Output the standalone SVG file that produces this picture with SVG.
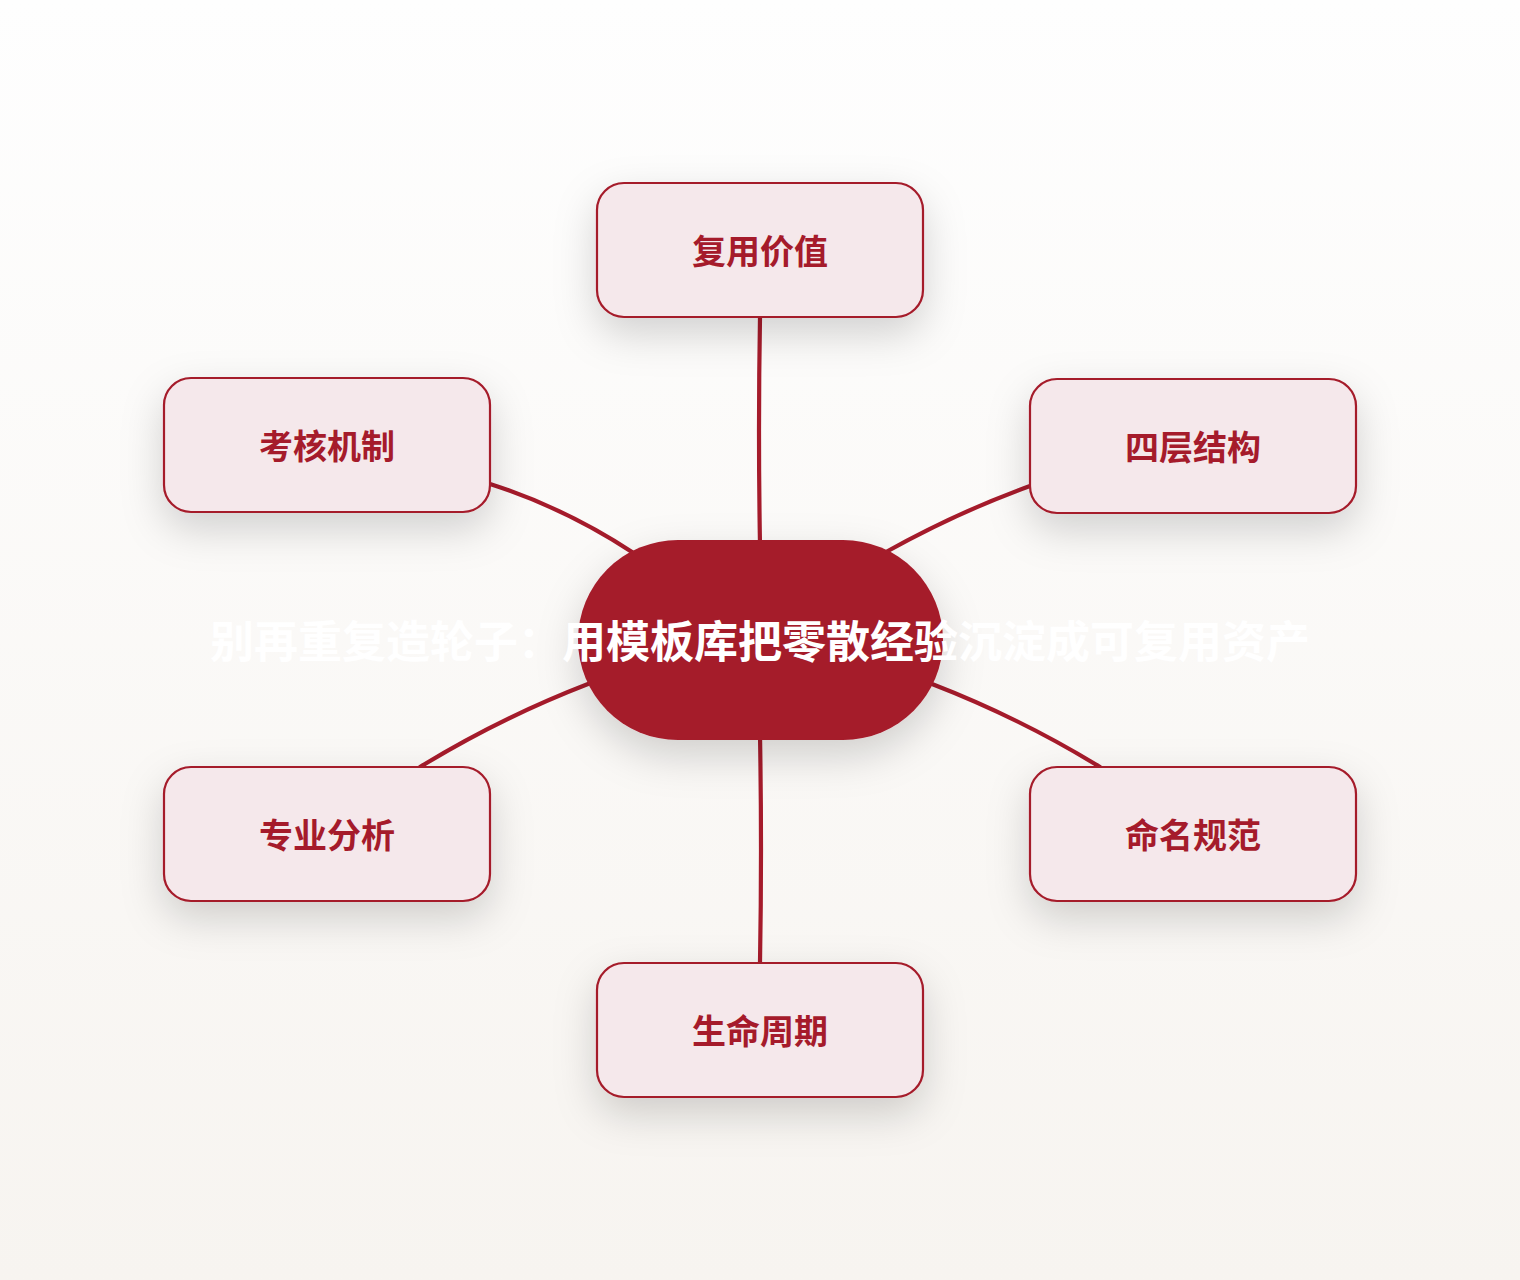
<svg xmlns="http://www.w3.org/2000/svg" width="1520" height="1280" viewBox="0 0 1520 1280">
  <defs>
    <linearGradient id="bg" x1="0" y1="0" x2="0" y2="1">
      <stop offset="0" stop-color="#fefefe"/>
      <stop offset="1" stop-color="#f7f4f0"/>
    </linearGradient>
    <filter id="shadow" x="-40%" y="-40%" width="180%" height="200%">
      <feDropShadow dx="0" dy="16" stdDeviation="20" flood-color="#000" flood-opacity="0.17"/>
    </filter>
    <style>
      .node rect.box { fill: #f5e8eb; stroke: #a51b2b; stroke-width: 2.2; filter: url(#shadow); }
      .node text { font-family: "Noto Sans CJK SC", "Noto Sans", sans-serif; font-weight: 700; font-size: 34px; fill: #a51b2b; text-anchor: middle; }
      .center rect { fill: #a51b2b; filter: url(#shadow); }
      .center text { font-family: "Noto Sans CJK SC", "Noto Sans", sans-serif; font-weight: 700; font-size: 44px; fill: #ffffff; text-anchor: middle; }
      .edges path { fill: none; stroke: #a51b2b; stroke-width: 4.2; stroke-linecap: round; }
    </style>
  </defs>
  <rect x="0" y="0" width="1520" height="1280" fill="url(#bg)"/>

  <g id="connectors" class="edges">
    <path d="M760,317 Q758,430 760,545"/>
    <path d="M490,484 Q565,508 632,552"/>
    <path d="M1030,486 Q958,512 886,552"/>
    <path d="M420,767 Q500,718 588,684"/>
    <path d="M1100,767 Q1020,718 932,684"/>
    <path d="M760,735 Q762,850 760,963"/>
  </g>

  <g id="node-center" class="center">
    <rect x="578" y="540" width="365" height="200" rx="100" ry="100"/>
    <text x="760" y="658">别再重复造轮子：用模板库把零散经验沉淀成可复用资产</text>
  </g>

  <g id="node-fuyong" class="node">
    <rect class="box" x="597" y="183" width="326" height="134" rx="27"/>
    <text x="760" y="264">复用价值</text>
  </g>
  <g id="node-kaohe" class="node">
    <rect class="box" x="164" y="378" width="326" height="134" rx="27"/>
    <text x="327" y="459">考核机制</text>
  </g>
  <g id="node-sicheng" class="node">
    <rect class="box" x="1030" y="379" width="326" height="134" rx="27"/>
    <text x="1193" y="460">四层结构</text>
  </g>
  <g id="node-zhuanye" class="node">
    <rect class="box" x="164" y="767" width="326" height="134" rx="27"/>
    <text x="327" y="848">专业分析</text>
  </g>
  <g id="node-mingming" class="node">
    <rect class="box" x="1030" y="767" width="326" height="134" rx="27"/>
    <text x="1193" y="848">命名规范</text>
  </g>
  <g id="node-shengming" class="node">
    <rect class="box" x="597" y="963" width="326" height="134" rx="27"/>
    <text x="760" y="1044">生命周期</text>
  </g>
</svg>
